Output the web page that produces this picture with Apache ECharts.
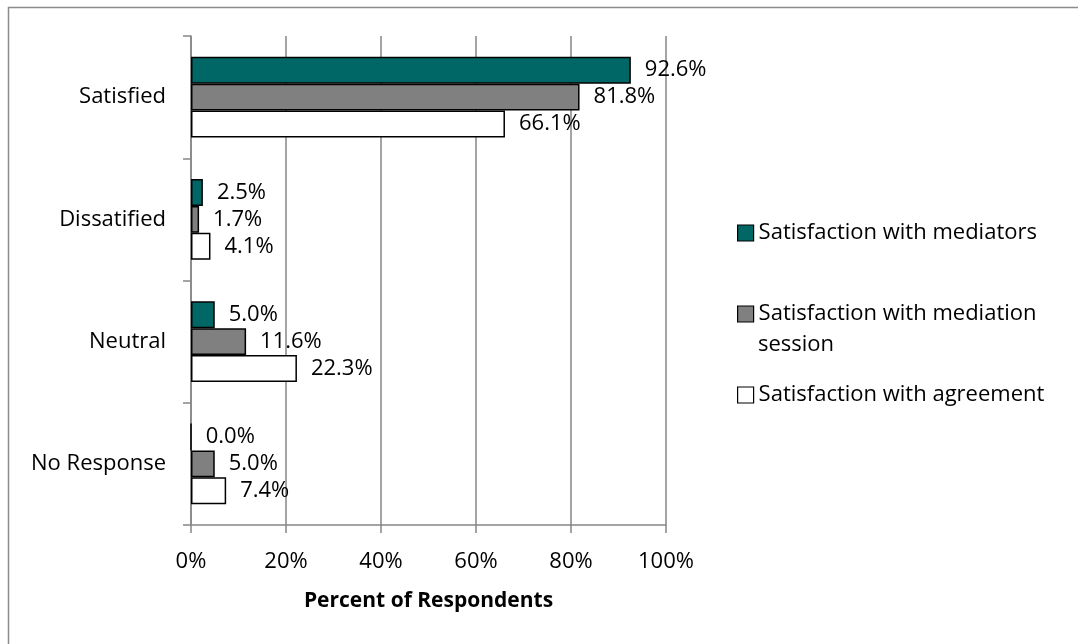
<!DOCTYPE html>
<html>
<head>
<meta charset="utf-8">
<script src="https://cdn.jsdelivr.net/npm/echarts@6/dist/echarts.min.js"></script>
<style>
  html, body { margin: 0; padding: 0; background: #fff; }
  #chart { width: 1078px; height: 644px; }
</style>
</head>
<body>
<div id="chart"></div>
<script>
// Survey responses by category (percent of respondents)
const categories = ['Satisfied', 'Dissatified', 'Neutral', 'No Response'];
const seriesNames = [
  'Satisfaction with mediators',
  'Satisfaction with mediation session',
  'Satisfaction with agreement'
];
const mediators = [92.6, 2.5, 5.0, 0.0];
const session = [81.8, 1.7, 11.6, 5.0];
const agreement = [66.1, 4.1, 22.3, 7.4];
const xTicks = [0, 20, 40, 60, 80, 100];

const FONT = 'Open Sans';
const FS = 22;
const colors = ['#006766', '#808080', '#ffffff'];
const values = [mediators, session, agreement];

const chart = echarts.init(document.getElementById('chart'));

const series = seriesNames.map((name, i) => ({
  name,
  type: 'bar',
  data: values[i],
  barGap: '0%',
  barCategoryGap: '34%',
  itemStyle: { color: colors[i], borderColor: '#000', borderWidth: 1.5 },
  label: {
    show: true,
    position: 'right',
    distance: 14,
    fontFamily: FONT,
    fontSize: FS,
    color: '#000',
    formatter: p => p.value.toFixed(1) + '%'
  },
  emphasis: { disabled: true }
}));

// one legend block per series, stacked down the right side
const legendTops = [220, 301, 382];
const legendLabels = [seriesNames[0], 'Satisfaction with mediation', seriesNames[2]];

chart.setOption({
  animation: false,
  backgroundColor: '#fff',
  grid: { left: 191, right: 412, top: 36, bottom: 119, containLabel: false },
  xAxis: {
    type: 'value',
    min: 0,
    max: 100,
    interval: 20,
    axisLine: { show: true, lineStyle: { color: '#868686', width: 1.5 } },
    axisTick: { show: true, length: 8, lineStyle: { color: '#868686', width: 1.5 } },
    splitLine: { show: true, lineStyle: { color: '#868686', width: 1.5 } },
    axisLabel: {
      fontFamily: FONT, fontSize: FS, color: '#000', margin: 26,
      formatter: v => xTicks.includes(v) ? v + '%' : ''
    },
    name: 'Percent of Respondents',
    nameLocation: 'middle',
    nameGap: 66,
    nameTextStyle: { fontFamily: FONT, fontSize: 21, fontWeight: 'bold', color: '#000' }
  },
  yAxis: {
    type: 'category',
    data: categories,
    inverse: true,
    axisLine: { show: true, lineStyle: { color: '#868686', width: 1.5 } },
    axisTick: { show: true, length: 8, lineStyle: { color: '#868686', width: 1.5 } },
    axisLabel: { fontFamily: FONT, fontSize: FS, color: '#000', margin: 25 }
  },
  legend: seriesNames.map((name, i) => ({
    data: [name],
    left: 737,
    top: legendTops[i],
    padding: 0,
    itemWidth: 16,
    itemHeight: 16,
    itemGap: 0,
    selectedMode: false,
    icon: 'rect',
    formatter: () => legendLabels[i],
    itemStyle: { borderColor: '#000', borderWidth: 1.2 },
    textStyle: { fontFamily: FONT, fontSize: FS, lineHeight: 26, color: '#000' }
  })),
  graphic: [
    {
      type: 'rect',
      shape: { x: 8.5, y: 7.5, width: 1200, height: 1000 },
      style: { fill: null, stroke: '#8c8c8c', lineWidth: 1.5 },
      silent: true,
      z: -1
    },
    {
      type: 'text',
      left: 758,
      top: 334,
      style: { text: 'session', font: FS + 'px "' + FONT + '"', fill: '#000' },
      silent: true
    }
  ],
  series
});
</script>
</body>
</html>
